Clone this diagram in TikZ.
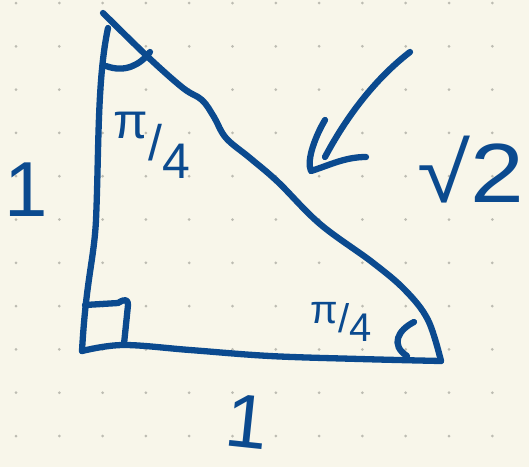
\documentclass[tikz,border=0pt]{standalone}
\usepackage{fontspec}
\setmainfont{Liberation Sans}
\usetikzlibrary{arrows.meta}
\definecolor{paper}{HTML}{F8F6EA}
\definecolor{ink}{HTML}{0B4A8F}
\definecolor{dotc}{HTML}{BDBCB2}

\begin{document}
\begin{tikzpicture}[x=1pt,y=-1pt,
  pen/.style={draw=ink,line width=6.3pt,line cap=round,line join=round},
  lbl/.style={text=ink,inner sep=0pt}]
\fill[paper] (0,0) rectangle (529,467);
\useasboundingbox (0,0) rectangle (529,467);
% dotted paper
\foreach \i in {0,...,11}
  \foreach \j in {0,...,10}
    \fill[dotc] ({16+43.3*\i},{3+43.3*\j}) circle (1.5);
% corners
\coordinate (top) at (103,13);
\coordinate (bl) at (82,351);
\coordinate (br) at (441,361);
% sides
\draw[pen] (108,28) .. controls (97,80) and (99,150) .. (96,220)
  .. controls (94,260) and (86,280) .. (bl);
\draw[pen] plot[smooth,tension=0.6] coordinates {(top) (148,57) (183,88) (202,100)
  (214,117) (226,138) (250,158) (278,182) (320,224) (372,262) (405,290) (428,320) (br)};
\draw[pen] plot[smooth,tension=0.6] coordinates {(bl) (123,345) (190,350)
  (270,356) (360,359) (br)};
% angle marks
\draw[pen] (106,66) .. controls (125,73) and (140,65) .. (150,52);
\draw[pen] (85,305) -- (118,303) .. controls (126,298) and (128,300) .. (128,305)
  -- (124,344);
\draw[pen] (414,322) .. controls (398,330) and (390,345) .. (407,356);
% arrow to hypotenuse
\draw[pen] (410,52) .. controls (380,75) and (350,110) .. (325,157);
\draw[pen] (325,120) .. controls (316,135) and (306,160) .. (311,171)
  .. controls (330,165) and (345,157) .. (366,157);
% labels
\node[lbl,font=\fontsize{50}{50}\selectfont] (a1) at (152,145)
  {\raisebox{22pt}{π}/\raisebox{-18pt}{4}};
\node[lbl,font=\fontsize{40}{40}\selectfont] (a2) at (341,322)
  {\raisebox{9pt}{π}/\raisebox{-9pt}{4}};
\node[lbl,font=\fontsize{78}{78}\selectfont] (s1) at (26,190) {1};
\node[lbl,font=\fontsize{76}{76}\selectfont,rotate=-6] (s2) at (247,422) {1};
\node[lbl,font=\fontsize{84}{84}\selectfont,xscale=1.15] (s3) at (471,170) {√2};
\end{tikzpicture}
\end{document}
